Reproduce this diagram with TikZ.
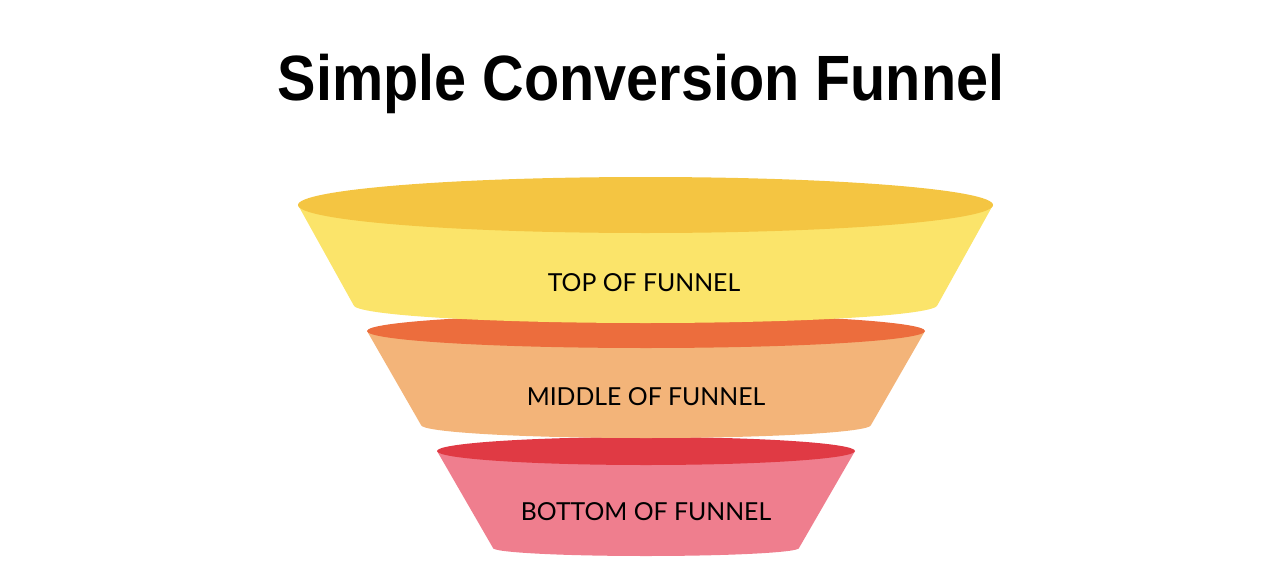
\documentclass[tikz,border=0pt]{standalone}
\usepackage{fontspec}
\setmainfont{Liberation Sans}
\newfontfamily\stagefont{Lato}
\newfontfamily\titlefont[FakeStretch=0.9]{Liberation Sans}
\definecolor{topcap}{HTML}{F4C542}
\definecolor{topbody}{HTML}{FBE46A}
\definecolor{midcap}{HTML}{EC6D3D}
\definecolor{midbody}{HTML}{F3B479}
\definecolor{botcap}{HTML}{E03A44}
\definecolor{botbody}{HTML}{EF7E8E}
\tikzset{
  stagetext/.style={font=\stagefont\fontsize{24.8}{28}\selectfont, text=black, inner sep=0pt},
  titletext/.style={font=\titlefont\bfseries\fontsize{64}{72}\selectfont, inner sep=0pt}
}
% funnel part: centre x, cap y, cap rx, cap ry, bottom half width, bottom y, bottom ry, colours
\newcommand{\funnelpart}[9]{%
  \fill[#9] (#1-#3,#2) -- (#1-#5,#6) arc[start angle=180, end angle=0, x radius=#5, y radius=#7]
    -- (#1+#3,#2) -- cycle;
  \fill[#8] (#1,#2) ellipse[x radius=#3, y radius=#4];
}
\begin{document}
\begin{tikzpicture}[x=1pt, y=-1pt]
  \useasboundingbox (0,0) rectangle (1282,586);
  \node[titletext, anchor=base] (title) at (641,100) {Simple Conversion Funnel};
  % bottom first, so the parts above overlap it
  \funnelpart{646}{451}{209}{14}{153}{548}{8}{botcap}{botbody}
  \funnelpart{646}{331}{279}{17}{225}{425}{13}{midcap}{midbody}
  \funnelpart{645.5}{205}{347.5}{28}{292}{305}{18}{topcap}{topbody}
  \node[stagetext] (tof) at (644,283) {TOP OF FUNNEL};
  \node[stagetext] (mof) at (646,397) {MIDDLE OF FUNNEL};
  \node[stagetext] (bof) at (646,512) {BOTTOM OF FUNNEL};
\end{tikzpicture}
\end{document}
